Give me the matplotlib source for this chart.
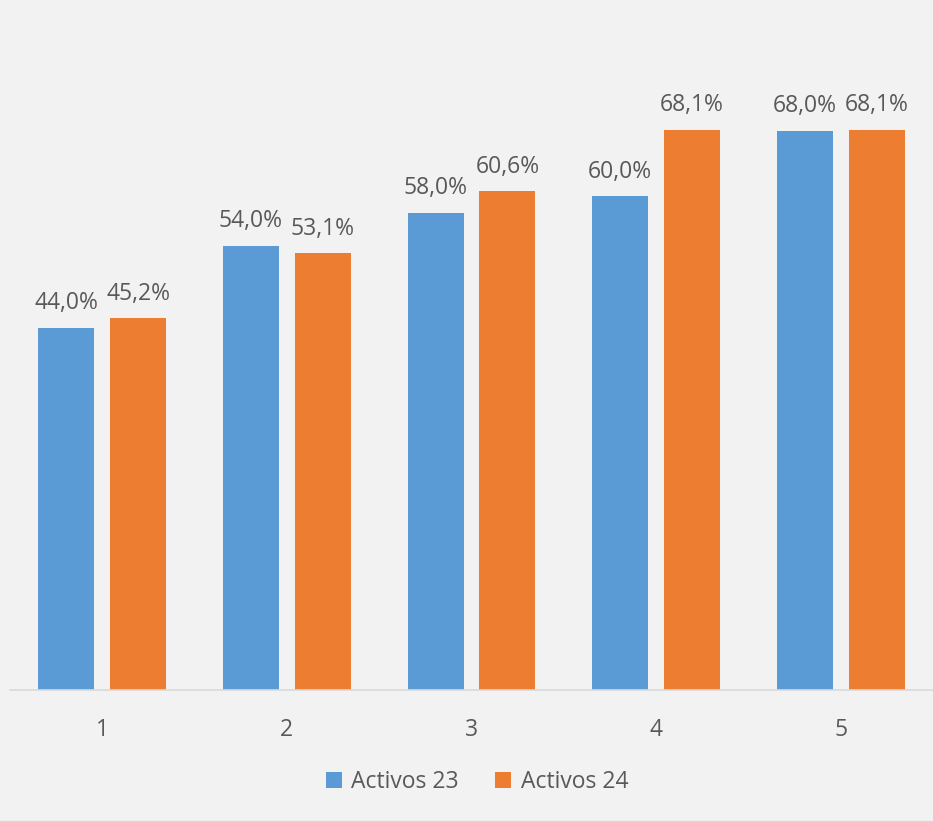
import matplotlib.pyplot as plt
import numpy as np

plt.rcParams['font.family'] = ['Open Sans', 'DejaVu Sans']

categories = ["1", "2", "3", "4", "5"]
activos_23 = [44.0, 54.0, 58.0, 60.0, 68.0]
activos_24 = [45.2, 53.1, 60.6, 68.1, 68.1]

BLUE = "#5b9bd5"
ORANGE = "#ed7d31"
TEXT = "#595959"
BG = "#f2f2f2"
FS = 16.5

fig = plt.figure(figsize=(9.33, 8.22), dpi=100, facecolor=BG)
ax = fig.add_axes([10 / 933, 132 / 822, 923 / 933, 650 / 822], facecolor=BG)

x = np.arange(len(categories))
w = 0.303
off = (w + 0.086) / 2
b1 = ax.bar(x - off, activos_23, w, color=BLUE, label="Activos 23")
b2 = ax.bar(x + off, activos_24, w, color=ORANGE, label="Activos 24")

for bars, vals in [(b1, activos_23), (b2, activos_24)]:
    for rect, v in zip(bars, vals):
        ax.annotate(f"{v:.1f}%".replace(".", ","),
                    (rect.get_x() + rect.get_width() / 2, v),
                    xytext=(0, 9), textcoords="offset points",
                    ha="center", va="bottom", fontsize=FS, color=TEXT)

ax.set_xlim(-0.5, len(categories) - 0.5)
ax.set_ylim(0, 79)
ax.set_xticks(x)
ax.set_xticklabels(categories, fontsize=FS, color=TEXT)
ax.tick_params(axis="x", length=0, pad=20)
ax.set_yticks([])
for s in ["top", "right", "left"]:
    ax.spines[s].set_visible(False)
ax.spines["bottom"].set_color("#d9d9d9")
ax.spines["bottom"].set_linewidth(1.2)

leg = fig.legend(loc="center", bbox_to_anchor=(477 / 933, 1 - 782 / 822), ncol=2,
                 frameon=False, fontsize=FS, handlelength=0.7, handleheight=0.7,
                 handletextpad=0.4, columnspacing=1.6)
for t in leg.get_texts():
    t.set_color(TEXT)

# thin chart border at the bottom edge
fig.add_artist(plt.Line2D([0, 1], [1.5 / 822, 1.5 / 822], transform=fig.transFigure,
                          color="#d9d9d9", linewidth=1))

fig.savefig("out.png", dpi=100, facecolor=BG)
